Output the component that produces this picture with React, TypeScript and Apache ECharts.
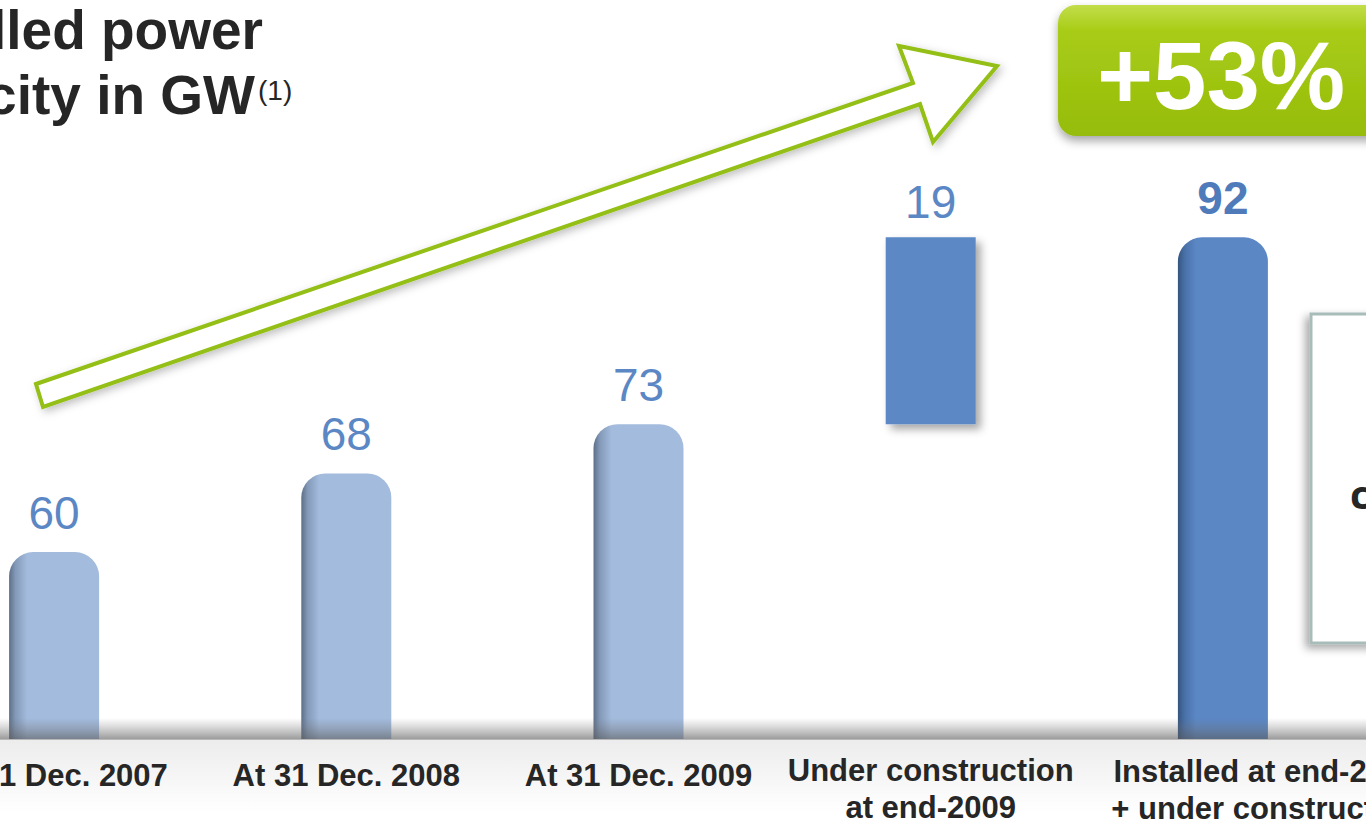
import React, { useEffect, useRef } from "react";
import * as echarts from "echarts";

const categories = [
  "At 31 Dec. 2007",
  "At 31 Dec. 2008",
  "At 31 Dec. 2009",
  "Under construction\nat end-2009",
  "Installed at end-2009\n+ under construction",
];
const offsets = [0, 0, 0, 73, 0];
const values = [60, 68, 73, 19, 92];
const titleLines = ["Installed power", "capacity in GW"];
const titleNote = "(1)";
const growthLabel = "+53%";

const LIGHT = {
  type: "linear", x: 0, y: 0, x2: 1, y2: 0,
  colorStops: [
    { offset: 0, color: "#5d6f88" },
    { offset: 0.07, color: "#8399b8" },
    { offset: 0.2, color: "#a3bbdd" },
    { offset: 1, color: "#a3bbdd" },
  ],
};
const DARK = {
  type: "linear", x: 0, y: 0, x2: 1, y2: 0,
  colorStops: [
    { offset: 0, color: "#35557f" },
    { offset: 0.08, color: "#4a72aa" },
    { offset: 0.2, color: "#5b87c5" },
    { offset: 1, color: "#5b87c5" },
  ],
};

export default function App() {
  const ref = useRef<HTMLDivElement>(null);
  useEffect(() => {
    if (!ref.current) return;
    const chart = echarts.init(ref.current, null, { renderer: "svg" });
    const font = "'Liberation Sans', Arial, sans-serif";
    const narrow = "'Liberation Sans Narrow', 'Arial Narrow', 'Liberation Sans', sans-serif";
    const labelBase = {
      fontFamily: narrow,
      fontWeight: "bold",
      fontSize: 31,
      lineHeight: 37,
      color: "#262626",
    };

    const valueData = values.map((v, i) => {
      const floating = offsets[i] > 0;
      const last = i === values.length - 1;
      return {
        value: v,
        itemStyle: floating
          ? { color: "#5b89c6", borderRadius: 0, shadowBlur: 8, shadowOffsetX: 5, shadowOffsetY: 5, shadowColor: "rgba(0,0,0,0.35)" }
          : { color: last ? DARK : LIGHT, borderRadius: [24, 24, 0, 0] },
        label: last
          ? { fontWeight: "bold", color: "#4f7bba", distance: 16 }
          : floating
          ? { distance: 12 }
          : { distance: 16 },
      };
    });

    chart.setOption({
      animation: false,
      backgroundColor: "#ffffff",
      grid: {
        left: -92, right: -3, top: 139, bottom: 87,
        containLabel: false, outerBoundsMode: "none",
      },
      xAxis: {
        type: "category",
        data: categories,
        axisLine: { show: false },
        axisTick: { show: false },
        axisLabel: {
          interval: 0,
          margin: 13,
          ...labelBase,
          formatter: (val: string, idx: number) =>
            idx === categories.length - 1
              ? `{s|${val}}`
              : val.indexOf("\n") >= 0
              ? `{m|${val}}`
              : `{a|${val}}`,
          rich: {
            a: { ...labelBase, padding: [10, 0, 0, 0] },
            m: { ...labelBase },
            s: { ...labelBase, padding: [2, 0, 0, 86] },
          },
        },
      },
      yAxis: {
        type: "value",
        min: 41,
        max: 102,
        show: false,
        splitLine: { show: false },
      },
      series: [
        {
          type: "bar",
          stack: "cap",
          barWidth: 90,
          data: offsets,
          itemStyle: { color: "rgba(0,0,0,0)" },
          silent: true,
          z: 2,
        },
        {
          type: "bar",
          stack: "cap",
          barWidth: 90,
          data: valueData,
          z: 3,
          label: {
            show: true,
            position: "top",
            fontFamily: font,
            fontSize: 46,
            color: "#5b87c5",
          },
        },
      ],
      graphic: [
        {
          type: "rect",
          z: 0,
          shape: { x: 0, y: 739, width: 1366, height: 87 },
          style: {
            fill: {
              type: "linear", x: 0, y: 0, x2: 0, y2: 1,
              colorStops: [
                { offset: 0, color: "#ececec" },
                { offset: 0.85, color: "#ffffff" },
                { offset: 1, color: "#ffffff" },
              ],
            },
          },
        },
        {
          type: "rect",
          z: 50,
          silent: true,
          shape: { x: 0, y: 718, width: 1366, height: 21 },
          style: {
            fill: {
              type: "linear", x: 0, y: 0, x2: 0, y2: 1,
              colorStops: [
                { offset: 0, color: "rgba(120,120,120,0)" },
                { offset: 1, color: "rgba(90,90,90,0.6)" },
              ],
            },
          },
        },
        {
          type: "line",
          z: 51,
          shape: { x1: 0, y1: 739.5, x2: 1366, y2: 739.5 },
          style: { stroke: "#b8b8b8", lineWidth: 1 },
        },
        {
          type: "polygon",
          z: 60,
          shape: {
            points: [
              [36, 384], [913, 83], [899, 46], [997, 66], [933, 142], [920, 104], [43, 407],
            ],
          },
          style: {
            fill: "#ffffff",
            stroke: "#93bf14",
            lineWidth: 4,
            lineJoin: "miter",
            shadowBlur: 8,
            shadowOffsetX: 3,
            shadowOffsetY: 3,
            shadowColor: "rgba(0,0,0,0.25)",
          },
        },
        {
          type: "text",
          z: 60,
          style: {
            text: titleLines[0],
            x: 263, y: 30,
            align: "right", verticalAlign: "middle",
            font: `bold 55px ${font}`,
            fill: "#262626",
          },
        },
        {
          type: "text",
          z: 60,
          style: {
            text: titleLines[1],
            x: 255, y: 95,
            align: "right", verticalAlign: "middle",
            font: `bold 55px ${font}`,
            fill: "#262626",
          },
        },
        {
          type: "text",
          z: 60,
          style: {
            text: titleNote,
            x: 258, y: 90,
            align: "left", verticalAlign: "middle",
            font: `28px ${font}`,
            fill: "#262626",
          },
        },
        {
          type: "rect",
          z: 60,
          shape: { x: 1058, y: 5, width: 340, height: 131, r: 18 },
          style: {
            fill: {
              type: "linear", x: 0, y: 0, x2: 0, y2: 1,
              colorStops: [
                { offset: 0, color: "#c2dd4a" },
                { offset: 0.2, color: "#a8cc16" },
                { offset: 1, color: "#96bc0c" },
              ],
            },
            shadowBlur: 10,
            shadowOffsetY: 5,
            shadowColor: "rgba(0,0,0,0.35)",
          },
        },
        {
          type: "text",
          z: 61,
          style: {
            text: growthLabel,
            x: 1097, y: 75,
            align: "left", verticalAlign: "middle",
            font: `bold 96px ${font}`,
            fill: "#ffffff",
          },
        },
        {
          type: "rect",
          z: 60,
          shape: { x: 1311, y: 314, width: 90, height: 329 },
          style: {
            fill: "#ffffff",
            stroke: "#a8bcba",
            lineWidth: 3,
            shadowBlur: 8,
            shadowOffsetX: -4,
            shadowOffsetY: 4,
            shadowColor: "rgba(0,0,0,0.35)",
          },
        },
        {
          type: "text",
          z: 61,
          style: {
            text: "c",
            x: 1350, y: 493,
            align: "left", verticalAlign: "middle",
            font: `bold 40px 'Open Sans', ${font}`,
            fill: "#262626",
          },
        },
      ],
    });
    return () => chart.dispose();
  }, []);
  return (
    <div
      ref={ref}
      style={{ position: "fixed", left: 0, top: 0, width: 1366, height: 826 }}
    />
  );
}
